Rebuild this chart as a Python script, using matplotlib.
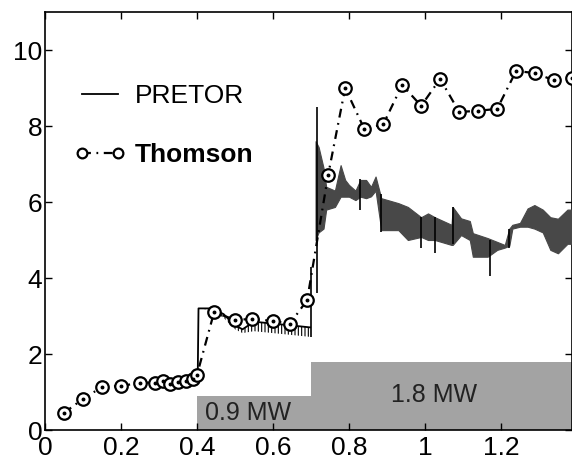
import matplotlib
matplotlib.use("Agg")
import matplotlib.pyplot as plt

plt.rcParams["font.family"] = ["Liberation Sans", "DejaVu Sans"]
plt.rcParams["hatch.linewidth"] = 0.8

# Thomson scattering measurements
thomson_t = [0.05, 0.10, 0.15, 0.20, 0.25, 0.29, 0.31, 0.33, 0.35, 0.37, 0.39,
             0.40, 0.445, 0.50, 0.545, 0.60, 0.645, 0.69, 0.745, 0.79, 0.84,
             0.89, 0.94, 0.99, 1.04, 1.09, 1.14, 1.19, 1.24, 1.29, 1.34, 1.387]
thomson_te = [0.45, 0.82, 1.13, 1.16, 1.24, 1.25, 1.28, 1.22, 1.27, 1.30, 1.35,
              1.45, 3.10, 2.90, 2.92, 2.87, 2.80, 3.42, 6.70, 9.00, 7.93,
              8.04, 9.08, 8.53, 9.24, 8.37, 8.40, 8.45, 9.45, 9.39, 9.20, 9.25]

# PRETOR simulation, ohmic + 0.9 MW phase (sawtooth envelope)
pretor_a_t = [0.285, 0.31, 0.34, 0.37, 0.39, 0.402, 0.404, 0.44, 0.47, 0.50,
              0.52, 0.55, 0.60, 0.65, 0.698]
pretor_a_top = [1.25, 1.28, 1.26, 1.30, 1.35, 1.45, 3.20, 3.20, 3.05, 2.75,
                2.65, 2.85, 2.80, 2.75, 2.70]
pretor_a_bot = [1.25, 1.28, 1.26, 1.30, 1.35, 1.45, 3.20, 3.15, 2.95, 2.65,
                2.55, 2.60, 2.55, 2.50, 2.45]

# PRETOR simulation, 1.8 MW phase (sawtooth envelope)
pretor_b_t = [0.712, 0.720, 0.733, 0.740, 0.763, 0.778, 0.790, 0.800, 0.817,
              0.830, 0.845, 0.858, 0.870, 0.885, 0.930, 0.955, 0.990, 1.008,
              1.026, 1.070, 1.073, 1.095, 1.118, 1.126, 1.165, 1.190, 1.210,
              1.222, 1.230, 1.250, 1.270, 1.288, 1.310, 1.330, 1.350, 1.375,
              1.390]
pretor_b_top = [7.60, 7.45, 6.90, 6.40, 6.30, 6.97, 6.58, 6.45, 6.30,
                6.58, 6.58, 6.40, 6.67, 6.10, 5.97, 5.87, 5.60, 5.70,
                5.60, 5.40, 5.87, 5.57, 5.50, 5.18, 5.05, 4.95, 4.87,
                5.30, 5.40, 5.45, 5.83, 5.92, 5.80, 5.60, 5.56, 5.80,
                5.80]
pretor_b_bot = [5.00, 5.20, 5.30, 5.80, 5.87, 6.14, 6.14, 6.14, 6.05,
                6.14, 6.10, 6.15, 6.30, 5.26, 5.26, 5.00, 5.08, 5.00,
                5.00, 4.87, 4.87, 5.13, 5.00, 4.56, 4.56, 4.74, 4.80,
                4.85, 5.30, 5.35, 5.35, 5.30, 5.20, 4.74, 4.65, 4.90,
                4.90]

# sawtooth crashes that reach past the envelope
spike_t = [0.700, 0.717, 0.830, 0.885, 0.990, 1.026, 1.073, 1.170, 1.222]
spike_lo = [2.45, 3.60, 5.80, 5.20, 4.80, 4.65, 4.90, 4.05, 4.80]
spike_hi = [4.30, 8.50, 6.60, 6.20, 5.60, 5.60, 5.87, 5.00, 5.30]

# additional heating power
power_start = [0.40, 0.70]
power_width = [0.30, 0.70]
power_mw = [0.9, 1.8]
power_labels = ["0.9 MW", "1.8 MW"]

x_ticks = [0, 0.2, 0.4, 0.6, 0.8, 1.0, 1.2]
x_tick_labels = ["0", "0.2", "0.4", "0.6", "0.8", "1", "1.2"]
y_ticks = [0, 2, 4, 6, 8, 10]

fig = plt.figure(figsize=(5.72, 4.61), dpi=100)
ax = fig.add_axes([45 / 572, 31 / 461, 527 / 572, 418 / 461])

# heating power blocks
ax.bar(power_start, power_mw, width=power_width, align="edge",
       color="#a3a3a3", edgecolor="none", zorder=1)
ax.text(power_start[0] + 0.02, power_mw[0] / 2, power_labels[0],
        fontsize=18, color="#222222", va="center", ha="left", zorder=2)
ax.text(1.025, power_mw[0] + 0.02, power_labels[1],
        fontsize=18, color="#222222", va="center", ha="center", zorder=2)

# PRETOR
ax.fill_between(pretor_a_t, pretor_a_bot, pretor_a_top, facecolor="none",
                edgecolor="black", hatch="|||||", linewidth=0, zorder=3)
ax.plot(pretor_a_t, pretor_a_top, color="black", lw=1.3, zorder=3)
ax.fill_between(pretor_b_t, pretor_b_bot, pretor_b_top, color="#484848",
                linewidth=0.8, edgecolor="#484848", zorder=3)
ax.vlines(spike_t, spike_lo, spike_hi, color="black", lw=1.2, zorder=3)
ax.plot([], [], color="black", lw=1.3, label="PRETOR")

# Thomson
ax.plot(thomson_t, thomson_te, color="black", lw=1.6,
        linestyle=(0, (4, 2.5, 0.8, 2.5)), marker="o", ms=9,
        mfc="white", mec="black", mew=1.6, label="Thomson", zorder=4)
ax.plot(thomson_t, thomson_te, linestyle="none", marker="o", ms=1.8,
        color="black", zorder=5)

ax.set_xlim(0, 1.387)
ax.set_ylim(0, 11)
ax.set_xticks(x_ticks)
ax.set_xticklabels(x_tick_labels)
ax.set_yticks(y_ticks)
ax.tick_params(direction="in", top=True, right=True, length=5, width=1,
               labelsize=19)
ax.tick_params(axis="x", pad=4)
ax.tick_params(axis="y", pad=2)
for spine in ax.spines.values():
    spine.set_linewidth(1.2)

leg = ax.legend(loc="center left", bbox_to_anchor=(0.055, 0.728),
                frameon=False, fontsize=19, numpoints=2, handlelength=1.97,
                handletextpad=0.34, labelspacing=1.33, borderpad=0,
                borderaxespad=0)
leg.get_texts()[1].set_fontweight("bold")
leg.legend_handles[1].set_markersize(7)

fig.savefig("out.png", dpi=100)
